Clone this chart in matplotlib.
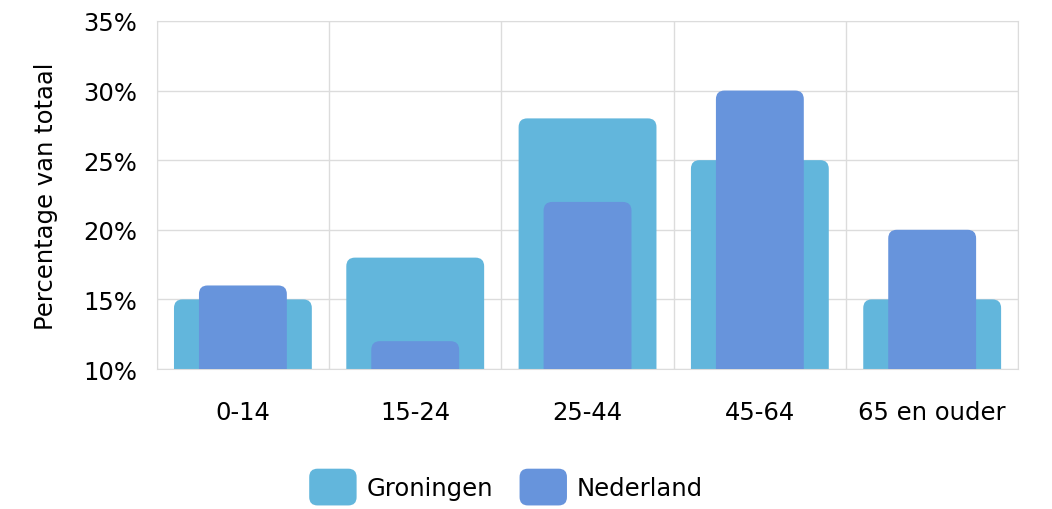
import numpy as np
import matplotlib
matplotlib.use("Agg")
import matplotlib.pyplot as plt
from matplotlib.patches import FancyBboxPatch, Patch
from matplotlib.legend_handler import HandlerPatch

categories = ["0-14", "15-24", "25-44", "45-64", "65 en ouder"]
groningen = [15, 18, 28, 25, 15]
nederland = [16, 12, 22, 30, 20]
yticks = [10, 15, 20, 25, 30, 35]

c_gron = "#62b6dc"
c_ned = "#6794dc"
fs = 17.5

plt.rcParams["font.family"] = ["DejaVu Sans"]

fig = plt.figure(figsize=(10.52, 5.10), dpi=100)
ax = fig.add_axes([0.149, 0.2745, 0.819, 0.6825])

x = np.arange(len(categories))
ax.set_xlim(-0.5, len(categories) - 0.5)
ax.set_ylim(10, 35)


# bars start below the axis so only the top corners show rounded
def draw(vals, width, color, z):
    for xi, v in zip(x, vals):
        r = 0.05
        asp = 12.4
        p = FancyBboxPatch((xi - width / 2 + r, 0), width - 2 * r, v - r * asp,
                           boxstyle="round,pad=%f,rounding_size=%f" % (r, r),
                           mutation_aspect=asp, fc=color, ec="none", zorder=z)
        ax.add_patch(p)


draw(groningen, 0.80, c_gron, 2)
draw(nederland, 0.51, c_ned, 3)

ax.set_yticks(yticks)
ax.set_yticklabels([f"{t}%" for t in yticks], fontsize=fs)
ax.set_xticks(x)
ax.set_xticklabels(categories, fontsize=fs)
ax.set_xticks(np.arange(-0.5, len(categories)), minor=True)
ax.grid(True, axis="y", color="#dcdcdc", lw=1, zorder=0)
ax.grid(True, axis="x", which="minor", color="#dcdcdc", lw=1, zorder=0)
ax.tick_params(axis="y", which="both", length=0, pad=14)
ax.tick_params(axis="x", which="both", length=0, pad=22)
for s in ax.spines.values():
    s.set_color("#dcdcdc")
ax.set_ylabel("Percentage van totaal", fontsize=fs, labelpad=18)


class RoundBox(HandlerPatch):
    def create_artists(self, legend, orig, xd, yd, w, h, fontsize, trans):
        p = FancyBboxPatch((-xd + 4, -yd + 4), w - 8, h - 8,
                           boxstyle="round,pad=4,rounding_size=6",
                           fc=orig.get_facecolor(), ec="none", transform=trans)
        return [p]


handles = [Patch(facecolor=c_gron, label="Groningen"),
           Patch(facecolor=c_ned, label="Nederland")]
fig.legend(handles=handles, loc="center", bbox_to_anchor=(0.481, 0.043),
           ncol=2, frameon=False, fontsize=fs, handlelength=1.95,
           handleheight=1.95, columnspacing=1.1, handletextpad=0.4,
           handler_map={Patch: RoundBox()})

fig.savefig("out.png", dpi=100)
